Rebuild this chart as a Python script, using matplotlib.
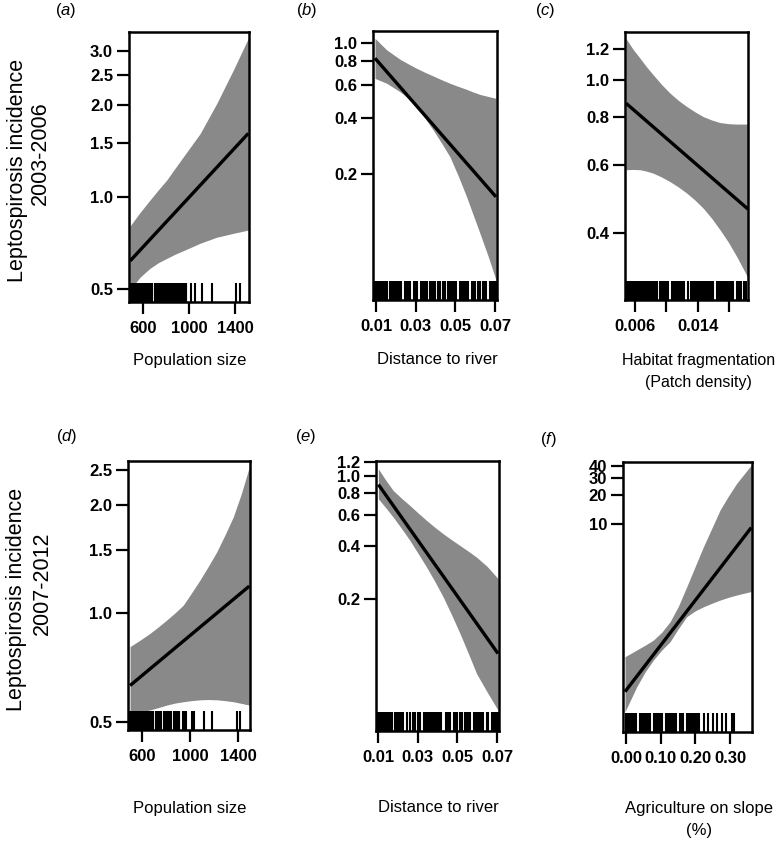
import matplotlib.pyplot as plt
from matplotlib.ticker import NullLocator
from matplotlib.transforms import blended_transform_factory

plt.rcParams['font.family'] = ['Liberation Sans', 'DejaVu Sans']
plt.rcParams['mathtext.fontset'] = 'custom'
plt.rcParams['mathtext.it'] = 'Liberation Sans:italic'
plt.rcParams['mathtext.rm'] = 'Liberation Sans'

# ---- (a) population size, 2003-2006
a_band_x = [487, 574, 661, 733, 806, 878, 951, 1096, 1241, 1386, 1516]
a_upper = [0.804, 0.89, 0.978, 1.055, 1.136, 1.24, 1.354, 1.61, 2.02, 2.6, 3.30]
a_lower = [0.497, 0.547, 0.585, 0.61, 0.63, 0.65, 0.668, 0.706, 0.739, 0.761, 0.78]
a_fit_x = [487, 1516]
a_fit = [0.618, 1.614]
a_rug = [490, 498, 505, 512, 520, 527, 533, 540, 547, 553, 560, 575, 582, 590,
         597, 605, 612, 620, 628, 636, 645, 652, 660, 668, 675, 700, 708, 716,
         722, 742, 750, 758, 766, 775, 795, 803, 812, 820, 828, 838, 845, 865,
         872, 880, 890, 897, 915, 922, 930, 948, 955, 962, 970, 978, 1018, 1052,
         1113, 1200, 1409, 1444]

# ---- (b) distance to river, 2003-2006
b_band_x = [0.0095, 0.0154, 0.0221, 0.0263, 0.0305, 0.0347, 0.0389, 0.0431, 0.0473,
            0.0515, 0.0557, 0.0590, 0.0624, 0.0665, 0.0705]
b_upper = [1.06, 0.92, 0.82, 0.774, 0.733, 0.698, 0.667, 0.637, 0.61, 0.587, 0.566,
           0.548, 0.532, 0.519, 0.507]
b_lower = [0.648, 0.61, 0.55, 0.507, 0.457, 0.397, 0.343, 0.292, 0.247, 0.195,
           0.151, 0.121, 0.0965, 0.073, 0.0544]
b_fit_x = [0.0095, 0.0705]
b_fit = [0.83, 0.151]
b_rug = [0.0090, 0.0098, 0.0106, 0.0114, 0.0122, 0.0130, 0.0138, 0.0146, 0.0154,
         0.0170, 0.0178, 0.0186, 0.0194, 0.0202, 0.0210, 0.0218, 0.0226, 0.0248,
         0.0256, 0.0264, 0.0272, 0.0290, 0.0298, 0.0306, 0.0325, 0.0333, 0.0341,
         0.0349, 0.0356, 0.0372, 0.0380, 0.0388, 0.0396, 0.0415, 0.0423, 0.0440,
         0.0448, 0.0465, 0.0473, 0.0481, 0.0489, 0.0497, 0.0505, 0.0525, 0.0533,
         0.0541, 0.0549, 0.0557, 0.0565, 0.0583, 0.0591, 0.0599, 0.0616, 0.0624,
         0.0641, 0.0649, 0.0657, 0.0675, 0.0683, 0.0691, 0.0699, 0.0705]

# ---- (c) habitat fragmentation, 2003-2006
c_band_x = [0.00485, 0.00575, 0.00664, 0.00748, 0.00833, 0.0094, 0.01046, 0.01152,
            0.01259, 0.01365, 0.0147, 0.01577, 0.01683, 0.01789, 0.01895, 0.0204]
c_upper = [1.28, 1.2, 1.138, 1.08, 1.03, 0.972, 0.924, 0.885, 0.853, 0.826, 0.803,
           0.787, 0.775, 0.77, 0.768, 0.768]
c_lower = [0.585, 0.586, 0.585, 0.58, 0.573, 0.56, 0.545, 0.528, 0.509, 0.488,
           0.465, 0.438, 0.409, 0.38, 0.349, 0.307]
c_fit_x = [0.00485, 0.0204]
c_fit = [0.87, 0.4625]
c_rug = [0.00480, 0.00505, 0.00530, 0.00555, 0.00580, 0.00605, 0.00630, 0.00655,
         0.00680, 0.00705, 0.00730, 0.00755, 0.00780, 0.00805, 0.00830, 0.00855,
         0.00880, 0.00920, 0.00945, 0.00970, 0.00995, 0.01020, 0.01070, 0.01095,
         0.01120, 0.01145, 0.01170, 0.01195, 0.01220, 0.01280, 0.01320, 0.01345,
         0.01370, 0.01395, 0.01420, 0.01445, 0.01470, 0.01495, 0.01520, 0.01545,
         0.01570, 0.01595, 0.01645, 0.01670, 0.01695, 0.01720, 0.01745, 0.01770,
         0.01795, 0.01820, 0.01845, 0.01895, 0.01920, 0.01945, 0.01995, 0.02020]

# ---- (d) population size, 2007-2012
d_band_x = [500, 583, 667, 736, 806, 875, 944, 1013, 1083, 1152, 1222, 1291, 1361,
            1428, 1494]
d_upper = [0.808, 0.842, 0.88, 0.917, 0.958, 1.003, 1.054, 1.14, 1.237, 1.35,
           1.48, 1.65, 1.855, 2.15, 2.55]
d_lower = [0.528, 0.532, 0.539, 0.547, 0.556, 0.563, 0.568, 0.572, 0.575, 0.576,
           0.575, 0.572, 0.568, 0.562, 0.556]
d_fit_x = [500, 1494]
d_fit = [0.63, 1.19]
d_rug = [490, 497, 504, 511, 518, 525, 532, 540, 547, 554, 561, 568, 576, 583,
         590, 598, 605, 612, 620, 628, 635, 642, 650, 657, 665, 672, 680, 690,
         695, 720, 727, 735, 742, 750, 760, 785, 792, 800, 808, 815, 825, 832,
         840, 868, 875, 882, 890, 897, 905, 912, 945, 952, 960, 967, 1018, 1025,
         1032, 1117, 1183, 1392, 1417]

# ---- (e) distance to river, 2007-2012
e_band_x = [0.0102, 0.0140, 0.0177, 0.0219, 0.0261, 0.0303, 0.0345, 0.0387, 0.0429,
            0.0471, 0.0513, 0.0555, 0.0597, 0.0650, 0.0705]
e_upper = [1.091, 0.94, 0.822, 0.743, 0.676, 0.612, 0.556, 0.508, 0.467, 0.432,
           0.401, 0.372, 0.344, 0.305, 0.26]
e_lower = [0.738, 0.655, 0.58, 0.5, 0.428, 0.36, 0.302, 0.25, 0.204, 0.162, 0.127,
           0.098, 0.075, 0.059, 0.0465]
e_fit_x = [0.0102, 0.0705]
e_fit = [0.889, 0.0975]
e_rug = [0.0090, 0.0098, 0.0106, 0.0114, 0.0122, 0.0130, 0.0138, 0.0146, 0.0154,
         0.0162, 0.0170, 0.0188, 0.0196, 0.0204, 0.0212, 0.0220, 0.0228, 0.0246,
         0.0262, 0.0279, 0.0287, 0.0303, 0.0311, 0.0331, 0.0339, 0.0347, 0.0355,
         0.0363, 0.0371, 0.0379, 0.0387, 0.0395, 0.0403, 0.0411, 0.0419, 0.0441,
         0.0449, 0.0457, 0.0465, 0.0482, 0.0490, 0.0498, 0.0515, 0.0523, 0.0541,
         0.0549, 0.0557, 0.0565, 0.0583, 0.0591, 0.0599, 0.0607, 0.0615, 0.0623,
         0.0631, 0.0649, 0.0657, 0.0675, 0.0683, 0.0691, 0.0699, 0.0707]

# ---- (f) agriculture on slope, 2007-2012
f_band_x = [-0.003, 0.031, 0.055, 0.079, 0.103, 0.127, 0.151, 0.175, 0.199, 0.223,
            0.247, 0.271, 0.295, 0.319, 0.361]
f_upper = [0.418, 0.491, 0.55, 0.623, 0.75, 0.967, 1.4, 2.23, 3.6, 5.81, 9.0,
           13.98, 19.5, 26.5, 41.0]
f_lower = [0.112, 0.204, 0.29, 0.386, 0.49, 0.599, 0.82, 1.09, 1.25, 1.38, 1.5,
           1.62, 1.73, 1.83, 1.99]
f_fit_x = [-0.003, 0.361]
f_fit = [0.181, 9.2]
f_rug = [0.000, 0.005, 0.010, 0.015, 0.020, 0.025, 0.030, 0.040, 0.045, 0.050,
         0.055, 0.060, 0.065, 0.070, 0.080, 0.085, 0.090, 0.095, 0.100, 0.105,
         0.115, 0.120, 0.125, 0.130, 0.135, 0.140, 0.145, 0.155, 0.160, 0.165,
         0.175, 0.180, 0.185, 0.190, 0.195, 0.200, 0.205, 0.210, 0.225, 0.237,
         0.250, 0.262, 0.276, 0.288, 0.305, 0.312]

W, H = 780, 858
fig = plt.figure(figsize=(7.8, 8.58), dpi=100)


def box(l, t, r, b):
    return [l / W, 1 - b / H, (r - l) / W, (b - t) / H]


def panel(rect, xlim, ylim, bx, lo, hi, fx, fy, rug, xt, xl, yt, yl):
    ax = fig.add_axes(rect)
    ax.set_yscale('log')
    ax.fill_between(bx, lo, hi, color='#898989', lw=0)
    ax.plot(fx, fy, color='black', lw=2.4, solid_capstyle='butt')
    tr = blended_transform_factory(ax.transData, ax.transAxes)
    ax.vlines(rug, 0, 0.07, transform=tr, color='black', lw=1.5)
    ax.set_xlim(xlim)
    ax.set_ylim(ylim)
    ax.set_xticks(xt, xl, fontweight='bold', fontsize=12)
    ax.set_yticks(yt, yl, fontweight='bold', fontsize=12)
    ax.yaxis.set_minor_locator(NullLocator())
    ax.xaxis.set_minor_locator(NullLocator())
    ax.tick_params(length=8.5, width=1.6, color='black')
    ax.tick_params(axis='x', pad=5)
    ax.tick_params(axis='y', pad=3)
    for s in ax.spines.values():
        s.set_linewidth(1.8)
    return ax


def lab(vals, fmt):
    return [fmt.format(v) for v in vals]


panel(box(129, 32, 249, 302), (478, 1522), (0.454, 3.46),
      a_band_x, a_lower, a_upper, a_fit_x, a_fit, a_rug,
      [600, 1000, 1400], ['600', '1000', '1400'],
      [0.5, 1.0, 1.5, 2.0, 2.5, 3.0], lab([0.5, 1.0, 1.5, 2.0, 2.5, 3.0], '{:.1f}'))

panel(box(373, 31, 497, 300), (0.0085, 0.071), (0.0425, 1.16),
      b_band_x, b_lower, b_upper, b_fit_x, b_fit, b_rug,
      [0.01, 0.03, 0.05, 0.07], ['0.01', '0.03', '0.05', '0.07'],
      [0.2, 0.4, 0.6, 0.8, 1.0], lab([0.2, 0.4, 0.6, 0.8, 1.0], '{:.1f}'))

panel(box(625, 32, 748, 300), (0.00473, 0.0204), (0.269, 1.33),
      c_band_x, c_lower, c_upper, c_fit_x, c_fit, c_rug,
      [0.006, 0.010, 0.014, 0.018], ['0.006', '', '0.014', ''],
      [0.4, 0.6, 0.8, 1.0, 1.2], lab([0.4, 0.6, 0.8, 1.0, 1.2], '{:.1f}'))

panel(box(128, 461, 250, 730), (483, 1500), (0.474, 2.65),
      d_band_x, d_lower, d_upper, d_fit_x, d_fit, d_rug,
      [600, 1000, 1400], ['600', '1000', '1400'],
      [0.5, 1.0, 1.5, 2.0, 2.5], lab([0.5, 1.0, 1.5, 2.0, 2.5], '{:.1f}'))

panel(box(376, 461, 499, 731), (0.009, 0.071), (0.0354, 1.21),
      e_band_x, e_lower, e_upper, e_fit_x, e_fit, e_rug,
      [0.01, 0.03, 0.05, 0.07], ['0.01', '0.03', '0.05', '0.07'],
      [0.2, 0.4, 0.6, 0.8, 1.0, 1.2], lab([0.2, 0.4, 0.6, 0.8, 1.0, 1.2], '{:.1f}'))

panel(box(623, 462, 752, 732), (-0.0087, 0.363), (0.069, 44.1),
      f_band_x, f_lower, f_upper, f_fit_x, f_fit, f_rug,
      [0.0, 0.1, 0.2, 0.3], ['0.00', '0.10', '0.20', '0.30'],
      [10, 20, 30, 40], ['10', '20', '30', '40'])


def ftext(x, y, s, **kw):
    fig.text(x / W, 1 - y / H, s, ha='center', va='center', **kw)


# panel letters
for x, y, s in [(66, 10, 'a'), (307, 10, 'b'), (545, 10, 'c'),
                (67, 437, 'd'), (306, 437, 'e'), (548, 440, 'f')]:
    ftext(x, y, '($\\mathit{' + s + '}$)', fontsize=12)

# y labels
ftext(18, 170, 'Leptospirosis incidence', rotation=90, fontsize=15.5)
ftext(40, 153, '2003-2006', rotation=90, fontsize=15.5)
ftext(17, 599, 'Leptospirosis incidence', rotation=90, fontsize=15.5)
ftext(42, 583, '2007-2012', rotation=90, fontsize=15.5)

# x labels
ftext(190, 360, 'Population size', fontsize=12)
ftext(437, 360, 'Distance to river', fontsize=12)
ftext(699, 360, 'Habitat fragmentation', fontsize=11.5)
ftext(698, 383, '(Patch density)', fontsize=11.5)
ftext(190, 808, 'Population size', fontsize=12)
ftext(438, 808, 'Distance to river', fontsize=12)
ftext(699, 808, 'Agriculture on slope', fontsize=12)
ftext(699, 831, '(%)', fontsize=12)

fig.savefig('out.png', dpi=100, facecolor='white')
